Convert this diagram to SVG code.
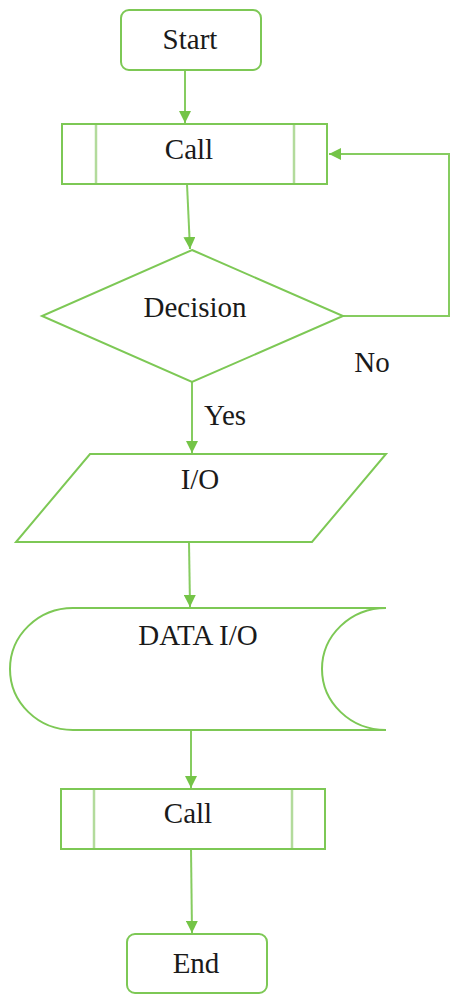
<svg xmlns="http://www.w3.org/2000/svg" width="450" height="994" viewBox="0 0 450 994">
  <style>
    .shape { fill: #ffffff; stroke: #7dc855; stroke-width: 2; }
    .bar { stroke: #b3db9c; stroke-width: 2.5; fill: none; }
    .link { fill: none; stroke: #86cc60; stroke-width: 2; }
    .label { font-family: "Liberation Serif", "Times New Roman", serif; font-size: 29px; fill: #1a1a1a; text-anchor: middle; }
  </style>
  <defs>
    <marker id="arrow" markerWidth="12" markerHeight="12" refX="12" refY="6" orient="auto" markerUnits="userSpaceOnUse">
      <path d="M0,0 L12,6 L0,12 Z" fill="#74c447"/>
    </marker>
  </defs>
  <rect width="450" height="994" fill="#ffffff"/>

  <g id="connectors">
    <line class="link" x1="185" y1="70" x2="185" y2="123" marker-end="url(#arrow)"/>
    <line class="link" x1="187" y1="184" x2="190" y2="249" marker-end="url(#arrow)"/>
    <polyline class="link" points="343,316 449,316 449,154 329,154" marker-end="url(#arrow)"/>
    <line class="link" x1="192" y1="382" x2="192" y2="453" marker-end="url(#arrow)"/>
    <line class="link" x1="189" y1="542" x2="190" y2="607" marker-end="url(#arrow)"/>
    <line class="link" x1="191" y1="730" x2="191" y2="788" marker-end="url(#arrow)"/>
    <line class="link" x1="191" y1="849" x2="192" y2="933" marker-end="url(#arrow)"/>
  </g>

  <g id="start">
    <rect class="shape" x="121" y="10" width="140" height="60" rx="8"/>
    <text class="label" x="190" y="49">Start</text>
  </g>

  <g id="call-1">
    <rect class="shape" x="62" y="124" width="265" height="60"/>
    <line class="bar" x1="96" y1="125" x2="96" y2="183"/>
    <line class="bar" x1="294" y1="125" x2="294" y2="183"/>
    <text class="label" x="189" y="159">Call</text>
  </g>

  <g id="decision">
    <polygon class="shape" points="192,250 343,316 192,382 42,316"/>
    <text class="label" x="195" y="317">Decision</text>
  </g>

  <g id="label-no">
    <text class="label" x="372" y="372">No</text>
  </g>
  <g id="label-yes">
    <text class="label" x="225" y="425">Yes</text>
  </g>

  <g id="io">
    <polygon class="shape" points="90,454 386,454 312,542 16,542"/>
    <text class="label" x="200" y="489">I/O</text>
  </g>

  <g id="data-io">
    <path class="shape" d="M73,608 L386,608 A64,61 0 0 0 386,730 L73,730 A63,61 0 0 1 73,608 Z"/>
    <text class="label" x="198" y="645">DATA I/O</text>
  </g>

  <g id="call-2">
    <rect class="shape" x="61" y="789" width="264" height="60"/>
    <line class="bar" x1="94" y1="790" x2="94" y2="848"/>
    <line class="bar" x1="292" y1="790" x2="292" y2="848"/>
    <text class="label" x="188" y="823">Call</text>
  </g>

  <g id="end">
    <rect class="shape" x="127" y="934" width="140" height="59" rx="8"/>
    <text class="label" x="196" y="973">End</text>
  </g>
</svg>
